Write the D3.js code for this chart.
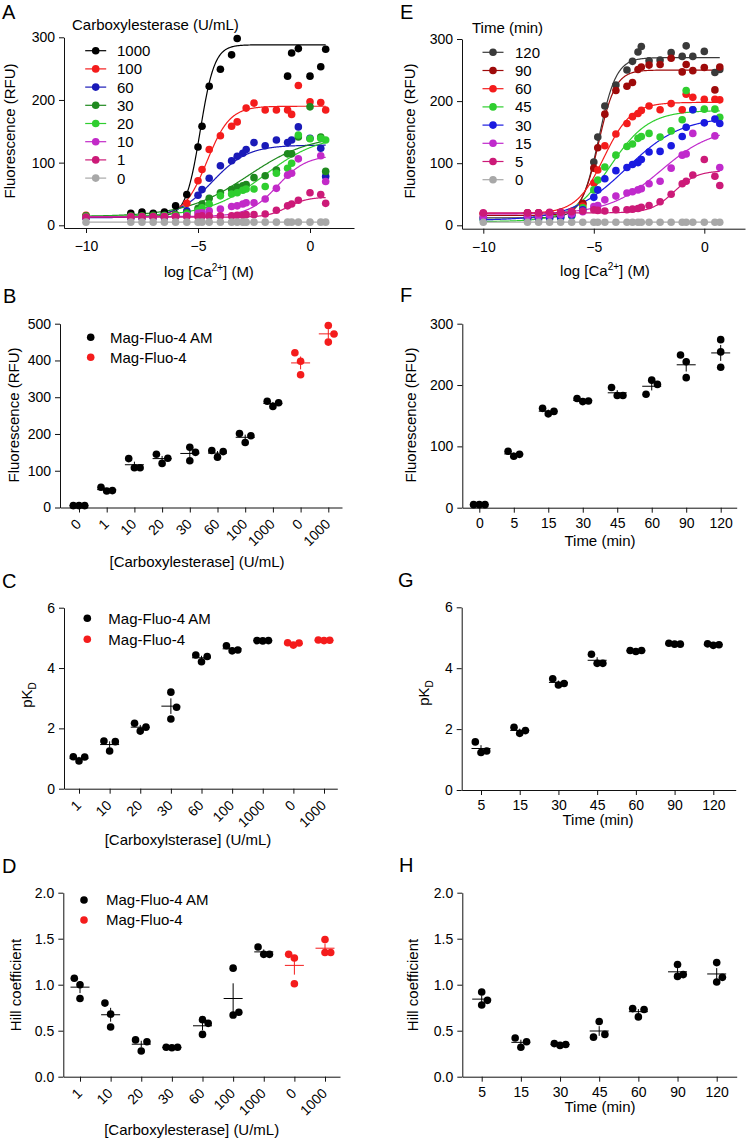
<!DOCTYPE html>
<html><head><meta charset="utf-8">
<script src="https://cdn.jsdelivr.net/npm/d3@7"></script>
<style>
body{margin:0;background:#fff;}
svg{display:block;}
</style></head><body>
<svg id="c" width="750" height="1140"></svg>
<script>
// ---------------- DATA ----------------
const logCa = [-10, -8, -7.5, -7, -6.5, -6, -5.5, -5, -4.82, -4.5, -4, -3.5, -3.25, -3, -2.85, -2.5, -2, -1.5, -1, -0.82, -0.52, 0, 0.48, 0.7];

// Panel A: carboxylesterase concentration series
const A_labels = ["1000","100","60","30","20","10","1","0"];
const A_values = [
  [13,19,21,19,21,31,49,125,158,222,249,272,298,null,null,null,null,null,238,275,282,238,253,281],
  [16,13,13,14,14,16,35,71,89,121,143,158,165,null,187,195,184,184,184,177,223,197,196,184],
  [12,12,12,13,13,15,23,48,57,75,95,103,110,115,121,132,127,136,132,136,157,139,123,78],
  [15,15,15,16,16,17,20,27,34,43,52,57,61,63,65,76,79,88,114,114,141,189,141,86],
  [14,14,14,14,15,15,18,23,28,34,47,50,52,56,58,58,62,83,91,99,144,138,139,136],
  [12,13,13,13,14,14,15,19,20,23,26,30,31,34,36,36,42,59,80,83,106,null,111,70],
  [13,14,14,14,14,14,14,14,15,15,15,15,16,16,17,17,18,24,31,34,40,52,49,35],
  [5,5,5,5,5,5,5,5,5,5,5,5,5,5,5,5,5,5,5,5,5,5,5,5]
];
const A_bottom = [14,14,12,14,14,14,13,5];
const A_top    = [288,190,128,145,145,112,45,5];
const A_pKD    = [4.9,4.6,4.35,2.75,2.05,1.45,1.0,0];
const A_hill   = [1.36,0.85,0.55,0.31,0.35,0.67,0.97,1];

// Panel E: time series
const E_labels = ["120","90","60","45","30","15","5","0"];
const E_values = [
  [13,14,14,15,16,18,35,102,142,192,226,250,264,279,288,265,266,278,272,289,272,280,246,251],
  [19,20,20,20,21,22,35,92,125,179,217,224,230,251,255,258,259,269,247,259,249,254,218,255],
  [19,19,19,20,20,22,31,68,89,128,147,164,175,180,185,192,186,196,186,211,206,203,203,202],
  [9,10,10,11,12,15,28,57,73,94,113,127,131,140,143,148,142,152,170,217,186,187,187,174],
  [10,11,11,12,13,16,25,45,57,75,88,93,98,101,106,118,119,128,143,158,186,165,171,164],
  [14,15,15,16,17,18,22,30,32,41,47,52,54,57,59,67,71,92,113,115,148,null,144,93],
  [20,20,20,21,21,22,23,25,24,23,25,25,26,27,29,32,38,50,67,71,81,106,79,64],
  [5,5,5,5,5,5,5,5,5,5,5,5,5,5,5,5,5,5,5,5,5,5,5,5]
];
const E_bottom = [12,16,19,6,8,18,20,5];
const E_top    = [270,250,198,185,175,158,88,5];
const E_pKD    = [4.77,4.78,4.55,4.25,3.53,1.97,1.37,0];
const E_hill   = [1.11,1.14,0.70,0.50,0.35,0.37,0.84,1];

// Panel B
const B_cats = ["0","1","10","20","30","60","100","1000","0","1000"];
const B_dye  = ["AM","AM","AM","AM","AM","AM","AM","AM","free","free"];
const B_values = [[5,5,5],[55,45,46],[133,108,108],[145,120,134],[164,127,150],[155,137,152],[201,177,195],[289,275,285],[421,398,361],[495,472,450]];
const B_slots = ["LCR","LCR","LCR","LCR","CCR","LCR","LCR","LCR","LCC","CRC"];

// Panel F
const F_cats = ["0","5","15","30","45","60","90","120"];
const F_values = [[5,5,5],[92,84,87],[162,153,157],[178,173,174],[196,183,183],[185,208,201],[249,238,212],[274,254,229]];
const F_slots = ["LCR","LCR","LCR","LCR","LCR","LCR","LCC","CCC"];

// Panel C
const C_cats = ["1","10","20","30","60","100","1000","0","1000"];
const C_dye  = ["AM","AM","AM","AM","AM","AM","AM","free","free"];
const C_values = [[1.06,0.92,1.05],[1.58,1.25,1.56],[2.17,1.91,2.04],[3.2,2.70,2.31],[4.43,4.21,4.38],[4.74,4.57,4.6],[4.91,4.9,4.91],[4.84,4.76,4.83],[4.93,4.91,4.92]];
const C_slots = ["LCR","LCR","LCR","CRC","LCR","LCR","LCR","LCR","LCR"];

// Panel G
const G_cats = ["5","15","30","45","60","90","120"];
const G_values = [[1.58,1.23,1.28],[2.06,1.86,1.95],[3.65,3.45,3.5],[4.46,4.16,4.16],[4.58,4.55,4.58],[4.82,4.79,4.79],[4.8,4.75,4.77]];
const G_slots = ["LCR","LCR","LCR","LCR","LCR","LCR","LCR"];

// Panel D
const D_cats = ["1","10","20","30","60","100","1000","0","1000"];
const D_dye  = ["AM","AM","AM","AM","AM","AM","AM","free","free"];
const D_values = [[1.07,1.0,0.85],[0.80,0.68,0.54],[0.40,0.28,0.38],[0.32,0.315,0.32],[0.62,0.58,0.46],[1.18,0.67,0.70],[1.41,1.33,1.33],[1.33,1.29,1.01],[1.49,1.35,1.35]];
const D_slots = ["LCC","LCC","LCR","LCR","CRC","CCR","LCR","LCC","CCR"];

// Panel H
const H_cats = ["5","15","30","45","60","90","120"];
const H_values = [[0.92,0.83,0.78],[0.42,0.38,0.32],[0.36,0.34,0.35],[0.60,0.43,0.46],[0.74,0.65,0.73],[1.22,1.09,1.11],[1.24,1.03,1.08]];
const H_slots = ["CRC","LRC","LCR","CLR","LCR","CCR","CCR"];

const dyeNames = ["Mag-Fluo-4 AM","Mag-Fluo-4"];

// ---------------- STYLE ----------------
const FF = "'Liberation Sans', Arial, Helvetica, sans-serif";
const A_colors = ["#000000","#f41c1c","#1a1ab8","#1f8a1f","#2fce2f","#c22ac8","#cc1a78","#a8a8a8"];
const E_colors = ["#3a3a3a","#9e0a0a","#f41c1c","#2fce2f","#1a1ae0","#c02acc","#cc1a78","#a8a8a8"];
const dyeColor = {AM:"#000000", free:"#f41c1c"};
const R = 3.8;

const svg = d3.select("#c").attr("font-family", FF);

function styleAxis(g){
  g.attr("font-size", 14).attr("font-family", FF);
  g.selectAll("text").attr("fill", "#000");
  g.selectAll(".domain, .tick line").attr("stroke", "#111").attr("stroke-width", 1);
}
function text(x, y, s, size, anchor){
  return svg.append("text").attr("x", x).attr("y", y).attr("font-size", size||15)
    .attr("text-anchor", anchor||"start").attr("fill","#000").text(s);
}
function yTitle(x, y, s){
  return svg.append("text").attr("transform", `translate(${x},${y}) rotate(-90)`)
    .attr("text-anchor","middle").attr("font-size",15).attr("fill","#000").text(s);
}
function pkdTitle(x, y){
  const t = svg.append("text").attr("transform", `translate(${x},${y}) rotate(-90)`)
    .attr("text-anchor","middle").attr("font-size",15).attr("fill","#000");
  t.append("tspan").text("pK");
  t.append("tspan").attr("dy", 4).attr("font-size", 10).text("D");
}
function caTitle(x, y){
  const t = svg.append("text").attr("x", x).attr("y", y).attr("text-anchor","middle").attr("font-size",15).attr("fill","#000");
  t.append("tspan").text("log [Ca");
  t.append("tspan").attr("dy", -6).attr("font-size", 10).text("2+");
  t.append("tspan").attr("dy", 6).text("] (M)");
}
function letter(x, y, s){ text(x, y, s, 20); }

// ---------------- DOSE-RESPONSE PANELS ----------------
function hill(b, t, pkd, n){ return x => b + (t - b) / (1 + Math.pow(10, (-pkd - x) * n)); }

function dosePanel(o){
  const x = d3.scaleLinear().domain([-10, 0]).range([o.xm10, o.x0]);
  const y = d3.scaleLinear().domain([0, 300]).range([o.y0, o.y300]);
  const xa = d3.scaleLinear().domain([x.invert(o.left), x.invert(o.right)]).range([o.left, o.right]);
  const ya = d3.scaleLinear().domain([y.invert(o.axisY), 300]).range([o.axisY, o.y300]);
  const gx = svg.append("g").attr("transform", `translate(0,${o.axisY})`)
    .call(d3.axisBottom(xa).tickValues([-10,-5,0]).tickSize(5).tickSizeOuter(0).tickPadding(8).tickFormat(d3.format("d")));
  styleAxis(gx);
  const gy = svg.append("g").attr("transform", `translate(${o.left},0)`)
    .call(d3.axisLeft(ya).tickValues([0,100,200,300]).tickSize(5).tickSizeOuter(0).tickPadding(4));
  styleAxis(gy);

  const xs = d3.range(-10, 0.701, 0.02);
  const line = d3.line().x(d => x(d[0])).y(d => y(d[1]));
  o.values.forEach((vals, i) => {
    const f = hill(o.bottom[i], o.top[i], o.pkd[i], o.hill[i]);
    svg.append("path").attr("d", line(xs.map(v => [v, f(v)])))
      .attr("fill","none").attr("stroke", o.colors[i]).attr("stroke-width", 1.2);
  });
  for (let i = 0; i < o.values.length; i++){
    const pts = o.values[i].map((v, j) => [logCa[j], v]).filter(d => d[1] != null);
    svg.append("g").selectAll("circle").data(pts).join("circle")
      .attr("cx", d => x(d[0])).attr("cy", d => y(d[1])).attr("r", R).attr("fill", o.colors[i]);
  }
  // legend
  text(o.legTitleX, o.legTitleY, o.legTitle, 15);
  o.labels.forEach((lab, i) => {
    const yy = o.legY0 + i * 18.2;
    svg.append("line").attr("x1", o.legX - 10.5).attr("x2", o.legX + 10.5).attr("y1", yy).attr("y2", yy)
      .attr("stroke", o.colors[i]).attr("stroke-width", 1.2);
    svg.append("circle").attr("cx", o.legX).attr("cy", yy).attr("r", R).attr("fill", o.colors[i]);
    text(o.legTextX, yy, lab, 15).attr("dy", "0.36em");
  });
}

dosePanel({left:64, right:354, xm10:86, x0:310, y0:225.3, y300:37.3, axisY:228,
  values:A_values, colors:A_colors, bottom:A_bottom, top:A_top, pkd:A_pKD, hill:A_hill, labels:A_labels,
  legTitle:"Carboxylesterase (U/mL)", legTitleX:72, legTitleY:30, legX:95.7, legY0:50.7, legTextX:117});
dosePanel({left:462, right:745, xm10:483.3, x0:704.3, y0:225.3, y300:39, axisY:228.7,
  values:E_values, colors:E_colors, bottom:E_bottom, top:E_top, pkd:E_pKD, hill:E_hill, labels:E_labels,
  legTitle:"Time (min)", legTitleX:472, legTitleY:33, legX:493, legY0:52.3, legTextX:515});

// ---------------- SCATTER PANELS ----------------
function scatterPanel(o){
  const n = o.cats.length, step = (o.last - o.first) / (n - 1);
  const x = d3.scaleLinear().domain([(o.left - o.first) / step, (o.right - o.first) / step]).range([o.left, o.right]);
  const y = d3.scaleLinear().domain([0, o.yMax]).range([o.axisY, o.yTop]);
  const gx = svg.append("g").attr("transform", `translate(0,${o.axisY})`)
    .call(d3.axisBottom(x).tickValues(d3.range(n)).tickFormat(i => o.cats[i]).tickSize(5).tickSizeOuter(0).tickPadding(5));
  styleAxis(gx);
  if (o.rotate){
    gx.selectAll(".tick text").attr("x", 0).attr("y", 0).attr("dy", "0.35em")
      .attr("transform", "translate(-1,14) rotate(-45)").attr("text-anchor", "end");
  }
  const gy = svg.append("g").attr("transform", `translate(${o.left},0)`)
    .call(d3.axisLeft(y).tickValues(o.yTicks).tickSize(5).tickSizeOuter(0).tickPadding(4).tickFormat(o.yFmt));
  styleAxis(gy);

  const slotDx = {L:-5.7, C:0, R:5.7};
  o.values.forEach((vals, i) => {
    const col = o.dye ? dyeColor[o.dye[i]] : "#000";
    const cx = x(i);
    svg.append("g").selectAll("circle").data(vals).join("circle")
      .attr("cx", (d, k) => cx + slotDx[o.slots[i][k]]).attr("cy", d => y(d)).attr("r", R).attr("fill", col);
    const m = d3.mean(vals), s = d3.deviation(vals) / Math.sqrt(vals.length);
    svg.append("line").attr("x1", cx - 9.5).attr("x2", cx + 9.5).attr("y1", y(m)).attr("y2", y(m))
      .attr("stroke", col).attr("stroke-width", 1);
    svg.append("line").attr("x1", cx).attr("x2", cx).attr("y1", y(m - s)).attr("y2", y(m + s))
      .attr("stroke", col).attr("stroke-width", 1);
  });
  if (o.legend){
    dyeNames.forEach((nm, i) => {
      const yy = o.legend.y + i * o.legend.dy;
      svg.append("circle").attr("cx", o.legend.x).attr("cy", yy).attr("r", R).attr("fill", i ? dyeColor.free : dyeColor.AM);
      text(o.legend.tx, yy, nm, 15).attr("dy", "0.36em");
    });
  }
}

scatterPanel({left:60, right:342, first:79, last:328.3, axisY:507.5, yTop:323.7, yMax:500,
  yTicks:[0,100,200,300,400,500], yFmt:d3.format("d"), cats:B_cats, values:B_values, slots:B_slots, dye:B_dye, rotate:true,
  legend:{x:90.7, y:337.3, dy:20, tx:110}});
scatterPanel({left:462.3, right:736.7, first:479.3, last:720.7, axisY:507.7, yTop:323.7, yMax:300,
  yTicks:[0,100,200,300], yFmt:d3.format("d"), cats:F_cats, values:F_values, slots:F_slots});
scatterPanel({left:64, right:337.3, first:79, last:324, axisY:788.7, yTop:607.7, yMax:6,
  yTicks:[0,2,4,6], yFmt:d3.format("d"), cats:C_cats, values:C_values, slots:C_slots, dye:C_dye, rotate:true,
  legend:{x:87.3, y:618.3, dy:21, tx:108.3}});
scatterPanel({left:461.7, right:735.7, first:481, last:713.3, axisY:790, yTop:607.3, yMax:6,
  yTicks:[0,2,4,6], yFmt:d3.format("d"), cats:G_cats, values:G_values, slots:G_slots});
scatterPanel({left:63.3, right:340, first:80, last:325, axisY:1076.7, yTop:892.7, yMax:2,
  yTicks:[0,0.5,1,1.5,2], yFmt:d3.format(".1f"), cats:D_cats, values:D_values, slots:D_slots, dye:D_dye, rotate:true,
  legend:{x:84, y:900, dy:20, tx:106}});
scatterPanel({left:462.3, right:736.7, first:481.7, last:716.7, axisY:1076.7, yTop:892.7, yMax:2,
  yTicks:[0,0.5,1,1.5,2], yFmt:d3.format(".1f"), cats:H_cats, values:H_values, slots:H_slots});

// ---------------- TITLES ----------------
caTitle(209, 277);
caTitle(605, 276);
yTitle(15, 131, "Fluorescence (RFU)");
yTitle(415, 131, "Fluorescence (RFU)");
yTitle(18.5, 415, "Fluorescence (RFU)");
yTitle(416, 415, "Fluorescence (RFU)");
pkdTitle(32, 695);
pkdTitle(429, 693);
yTitle(21, 985, "Hill coefficient");
yTitle(418, 985, "Hill coefficient");

text(197, 566.7, "[Carboxylesterase] (U/mL)", 15, "middle");
text(600, 545.7, "Time (min)", 15, "middle");
text(188, 845, "[Carboxylsterase] (U/mL)", 15, "middle");
text(598, 825, "Time (min)", 15, "middle");
text(191.7, 1135, "[Carboxylesterase] (U/mL)", 15, "middle");
text(600, 1111.7, "Time (min)", 15, "middle");

letter(2, 18.5, "A");
letter(400, 18.5, "E");
letter(3, 302.7, "B");
letter(400, 301.7, "F");
letter(2, 588.3, "C");
letter(398, 586.7, "G");
letter(2, 873.3, "D");
letter(399, 872.3, "H");
</script></body></html>
